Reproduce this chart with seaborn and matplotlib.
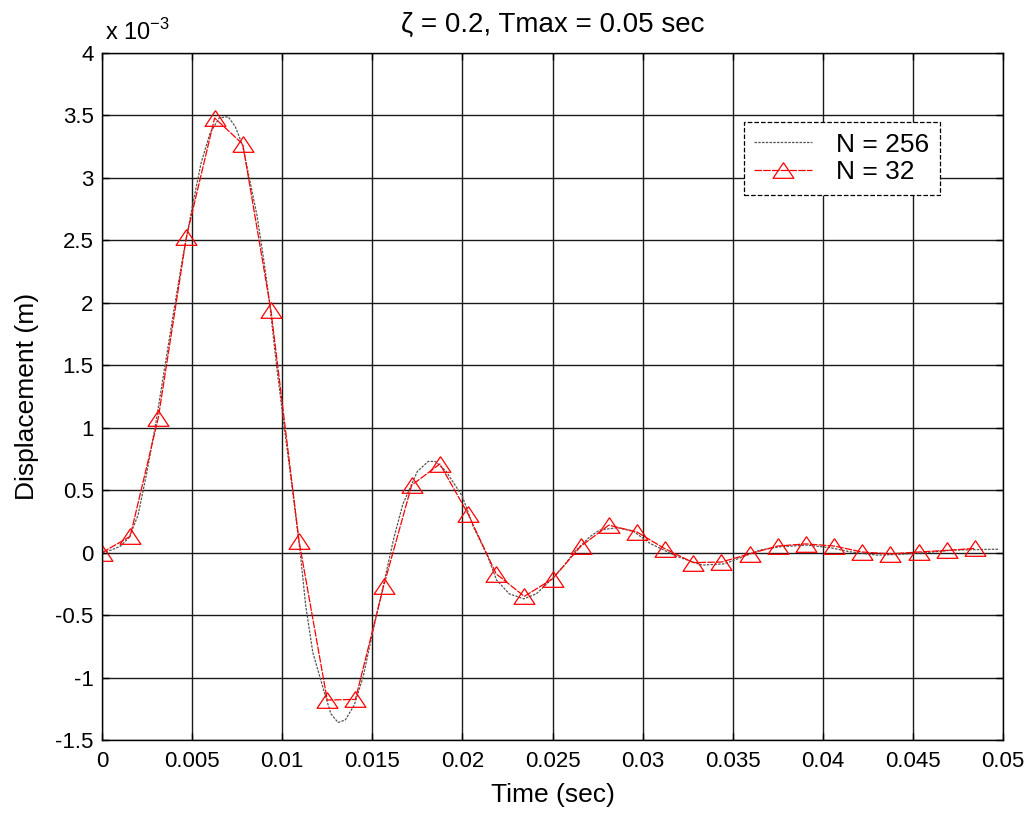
import numpy as np
import pandas as pd
import matplotlib
matplotlib.use("Agg")
import matplotlib.pyplot as plt
import seaborn as sns

# ---- data (displacement in units of 1e-3 m) ----
t_256 = [0.0000, 0.0005, 0.0010, 0.0015, 0.0020, 0.0025, 0.0030, 0.0035, 0.0040,
         0.0045, 0.0050, 0.0055, 0.0060, 0.0065, 0.0070, 0.0074, 0.0078, 0.0082,
         0.0086, 0.0090, 0.0093, 0.0097, 0.0101, 0.0106, 0.0110, 0.0113, 0.0117,
         0.0123, 0.0127, 0.0131, 0.0135, 0.0140, 0.0145, 0.0150, 0.0156, 0.0162,
         0.0167, 0.0175, 0.0181, 0.0185, 0.0191, 0.0200, 0.0206, 0.0214, 0.0219,
         0.0226, 0.0234, 0.0241, 0.0249, 0.0256, 0.0263, 0.0271, 0.0276, 0.0286,
         0.0295, 0.0304, 0.0319, 0.0333, 0.0345, 0.0350, 0.0365, 0.0376, 0.0391,
         0.0404, 0.0415, 0.0430, 0.0443, 0.0457, 0.0472, 0.0494, 0.0498]
y_256 = [0.00, 0.02, 0.05, 0.12, 0.30, 0.65, 1.05, 1.50, 1.95,
         2.38, 2.76, 3.12, 3.36, 3.48, 3.49, 3.41, 3.26, 2.98,
         2.70, 2.32, 2.00, 1.48, 1.02, 0.47, 0.00, -0.42, -0.80,
         -1.10, -1.29, -1.36, -1.34, -1.22, -0.99, -0.65, -0.27, 0.12,
         0.39, 0.65, 0.73, 0.73, 0.65, 0.45, 0.21, -0.03, -0.22,
         -0.33, -0.37, -0.33, -0.22, -0.11, 0.02, 0.13, 0.18, 0.20,
         0.17, 0.075, -0.03, -0.10, -0.09, -0.065, 0.02, 0.047, 0.06,
         0.04, 0.007, -0.02, -0.014, 0.00, 0.02, 0.027, 0.027]

t_32 = [0.0, 0.0015625, 0.003125, 0.0046875, 0.00625, 0.0078125, 0.009375, 0.0109375,
        0.0125, 0.0140625, 0.015625, 0.0171875, 0.01875, 0.0203125, 0.021875, 0.0234375,
        0.025, 0.0265625, 0.028125, 0.0296875, 0.03125, 0.0328125, 0.034375, 0.0359375,
        0.0375, 0.0390625, 0.040625, 0.0421875, 0.04375, 0.0453125, 0.046875, 0.0484375]
y_32 = [0.00, 0.13, 1.08, 2.53, 3.48, 3.27, 1.94, 0.09,
        -1.18, -1.175, -0.27, 0.54, 0.71, 0.31, -0.17, -0.35,
        -0.21, 0.05, 0.22, 0.165, 0.03, -0.08, -0.075, -0.01,
        0.053, 0.07, 0.053, 0.005, -0.01, 0.005, 0.018, 0.034]

x_ticks = [0, 0.005, 0.01, 0.015, 0.02, 0.025, 0.03, 0.035, 0.04, 0.045, 0.05]
x_tick_labels = ["0", "0.005", "0.01", "0.015", "0.02", "0.025", "0.03", "0.035", "0.04", "0.045", "0.05"]
y_ticks = [-1.5, -1, -0.5, 0, 0.5, 1, 1.5, 2, 2.5, 3, 3.5, 4]
y_tick_labels = ["-1.5", "-1", "-0.5", "0", "0.5", "1", "1.5", "2", "2.5", "3", "3.5", "4"]

sns.set_style("white")
plt.rcParams['font.family'] = ['Liberation Sans', 'DejaVu Sans']
plt.rcParams['text.color'] = 'black'
plt.rcParams['axes.labelcolor'] = 'black'
plt.rcParams['xtick.color'] = 'black'
plt.rcParams['ytick.color'] = 'black'

fig = plt.figure(figsize=(10.34, 8.16), dpi=100)
ax = fig.add_axes([102/1034, 1 - 740/816, 901/1034, 687/816])

df256 = pd.DataFrame({"t": t_256, "y": y_256})
df32 = pd.DataFrame({"t": t_32, "y": y_32})

ax.grid(True, color="#1a1a1a", linewidth=1.0, linestyle="-")
ax.set_axisbelow(True)

sns.lineplot(data=df256, x="t", y="y", ax=ax, color="#555555", linewidth=0.9,
             linestyle=(0, (2, 1)), label="N = 256", sort=False)
tri = [(0, 0.75), (-1, -0.75), (1, -0.75), (0, 0.75)]
sns.lineplot(data=df32, x="t", y="y", ax=ax, color="red", linewidth=0.9,
             linestyle=(0, (6, 1)), marker=tri, markersize=15,
             markerfacecolor="none", markeredgecolor="red", markeredgewidth=0.9,
             label="N = 32", sort=False)

ax.set_xlim(0, 0.05)
ax.set_ylim(-1.5, 4)
ax.set_xticks(x_ticks)
ax.set_xticklabels(x_tick_labels)
ax.set_yticks(y_ticks)
ax.set_yticklabels(y_tick_labels)
ax.tick_params(direction="in", length=5, width=1, colors="black", labelsize=16,
               top=True, right=True, left=True, bottom=True)
ax.tick_params(axis="x", pad=8)
ax.tick_params(axis="y", pad=6)
for s in ax.spines.values():
    s.set_color("black")
    s.set_linewidth(1.0)

ax.set_xlabel("Time (sec)", fontsize=19, labelpad=8)
ax.set_ylabel("Displacement (m)", fontsize=19, labelpad=12)
ax.set_title("ζ = 0.2, Tmax = 0.05 sec", fontsize=20, pad=15)
ax.text(0.003, 1.012, r"x 10$^{\mathregular{-3}}$", transform=ax.transAxes,
        fontsize=17, ha="left", va="bottom")

leg = ax.legend(loc="upper right", bbox_to_anchor=(0.930, 0.8996), fontsize=19,
                frameon=True, fancybox=False, framealpha=1, handlelength=2.2,
                borderpad=0.4, labelspacing=0.15, handletextpad=0.9,
                borderaxespad=0)
fr = leg.get_frame()
fr.set_edgecolor("black")
fr.set_linestyle("--")
fr.set_linewidth(0.9)

fig.savefig("out.png", dpi=100, facecolor="white")
